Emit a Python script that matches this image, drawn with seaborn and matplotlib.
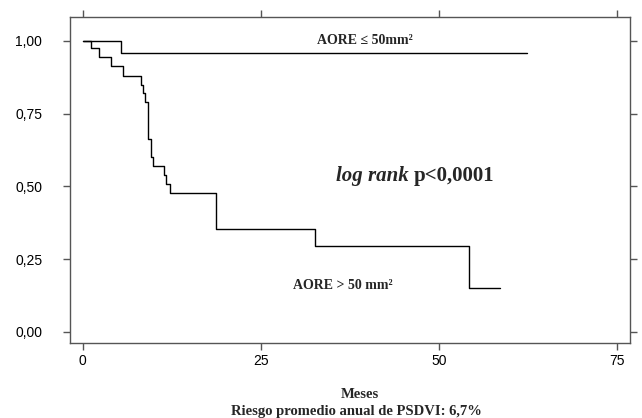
import matplotlib
matplotlib.use("Agg")
import matplotlib.pyplot as plt
import pandas as pd
import seaborn as sns

# ── Data ────────────────────────────────────────────────────────────────────
low_t = [0, 1.2, 2.25, 3.9, 5.7, 8.2, 8.5, 8.8, 9.2, 9.55, 9.9, 11.4, 11.75,
         12.3, 18.7, 32.6, 54.2, 58.6]
low_s = [1.0, 0.974, 0.943, 0.912, 0.880, 0.850, 0.820, 0.789, 0.662, 0.602,
         0.571, 0.539, 0.508, 0.476, 0.355, 0.296, 0.150, 0.150]
high_t = [0, 5.3, 62.4]
high_s = [1.0, 0.96, 0.96]

x_ticks = [0, 25, 50, 75]
y_ticks = [0.0, 0.25, 0.50, 0.75, 1.0]
y_labels = ["0,00", "0,25", "0,50", "0,75", "1,00"]

sns.set_theme(style="ticks")
plt.rcParams["font.family"] = ["Liberation Sans", "DejaVu Sans"]
SERIF = ["Liberation Serif", "DejaVu Serif"]

df_low = pd.DataFrame({"t": low_t, "s": low_s})
df_high = pd.DataFrame({"t": high_t, "s": high_s})

fig = plt.figure(figsize=(6.42, 4.18), dpi=100)
ax = fig.add_axes([0.109, 0.1794, 0.872, 0.7799])

for d in (df_high, df_low):
    sns.lineplot(data=d, x="t", y="s", drawstyle="steps-post",
                 estimator=None, color="black", linewidth=1.0, ax=ax)

ax.set_xlim(-1.8, 76.8)
ax.set_ylim(-0.038, 1.082)
ax.set_xticks(x_ticks)
ax.set_yticks(y_ticks)
ax.set_yticklabels(y_labels)
ax.set_xlabel("")
ax.set_ylabel("")

for sp in ax.spines.values():
    sp.set_visible(True)
    sp.set_color("#555555")
    sp.set_linewidth(1.0)
ax.tick_params(axis="both", direction="out", length=5, width=1.0,
               color="#555555", labelsize=10, labelcolor="black",
               top=True, right=True, labeltop=False, labelright=False)
ax.tick_params(axis="y", pad=15)
ax.tick_params(axis="x", pad=3)

# ── Annotations ─────────────────────────────────────────────────────────────
ax.text(32.9, 1.0, "AORE \u2264 50mm\u00b2", fontsize=10,
        fontweight="bold", family=SERIF, va="center", ha="left")
ax.text(29.5, 0.158, "AORE > 50 mm\u00b2", fontsize=10,
        fontweight="bold", family=SERIF, va="center", ha="left")
lr = ax.text(35.6, 0.537, "log rank", fontsize=15, fontweight="bold",
             style="italic", family=SERIF, va="center", ha="left")
ax.annotate("p<0,0001", xy=(1, 0.5), xycoords=lr, xytext=(3, 0),
            textcoords="offset points", fontsize=15, fontweight="bold",
            family=SERIF, va="center", ha="left")

fig.text(360 / 642, 1 - 395 / 418, "Meses", fontsize=10.5,
         fontweight="bold", family=SERIF, ha="center", va="center")
fig.text(356 / 642, 1 - 411 / 418, "Riesgo promedio anual de PSDVI: 6,7%",
         fontsize=10.5, fontweight="bold", family=SERIF, ha="center",
         va="center")

fig.savefig("out.png", dpi=100)
plt.close(fig)
